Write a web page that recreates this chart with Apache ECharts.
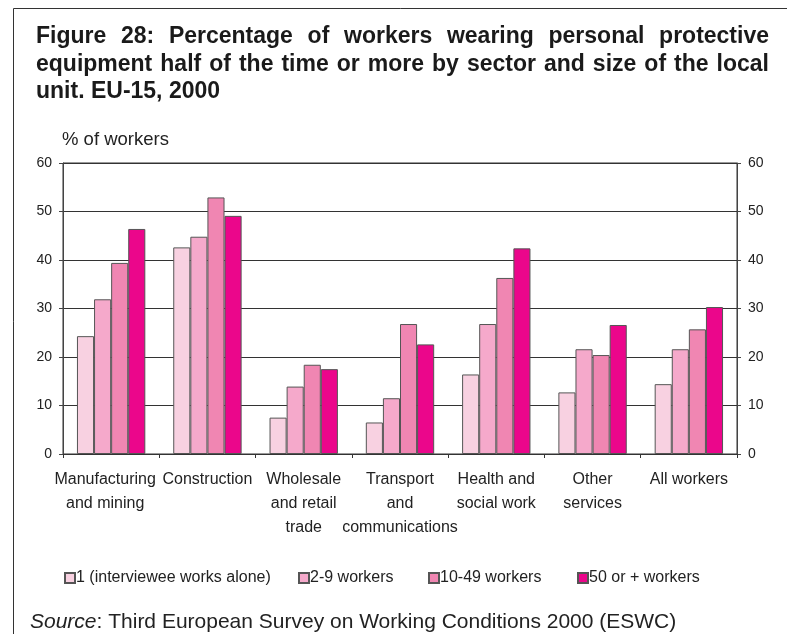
<!DOCTYPE html>
<html><head><meta charset="utf-8">
<script src="https://cdn.jsdelivr.net/npm/echarts@6/dist/echarts.min.js"></script>
<style>html,body{margin:0;padding:0;background:#fff}#c{width:787px;height:634px}</style>
</head><body><div id="c"></div>
<script>
const categories = ["Manufacturing\nand mining","Construction","Wholesale\nand retail\ntrade","Transport\nand\ncommunications","Health and\nsocial work","Other\nservices","All workers"];
const seriesNames = ["1 (interviewee works alone)","2-9 workers","10-49 workers","50 or + workers"];
const alone = [24.3, 42.6, 7.5, 6.5, 16.4, 12.7, 14.4];
const w2to9 = [31.9, 44.8, 13.9, 11.5, 26.8, 21.6, 21.6];
const w10to49 = [39.4, 52.9, 18.4, 26.8, 36.3, 20.4, 25.7];
const w50plus = [46.4, 49.1, 17.5, 22.6, 42.4, 26.6, 30.3];
const yTicks = [0, 10, 20, 30, 40, 50, 60];
const titleLines = ["Figure 28: Percentage of workers wearing personal protective","equipment half of the time or more by sector and size of the local","unit. EU-15, 2000"];

const colors = ["#F8D1E1","#F5A9CB","#F086B2","#EB068B"];
const FONT = "'Liberation Sans', Arial, sans-serif";
const chart = echarts.init(document.getElementById('c'), null, {renderer:'canvas'});

// justified title words
const ctx = document.createElement('canvas').getContext('2d');
const tSize = 23;
ctx.font = "bold " + tSize + "px " + FONT;
const titleEls = [];
const x0 = 36, x1 = 769, baselines = [44, 71.5, 99];
const topOff = 0.8 * tSize;
titleLines.forEach((line, li) => {
  const words = line.split(' ');
  if (li < 2) {
    const widths = words.map(w => ctx.measureText(w).width);
    const total = widths.reduce((a,b)=>a+b,0);
    const gap = (x1 - x0 - total) / (words.length - 1);
    let x = x0;
    words.forEach((w, i) => {
      titleEls.push({type:'text', left:x, top:baselines[li]-topOff, style:{text:w, font:"bold "+tSize+"px "+FONT, fill:'#1a1a1a'}});
      x += widths[i] + gap;
    });
  } else {
    titleEls.push({type:'text', left:x0, top:baselines[li]-topOff, style:{text:line, font:"bold "+tSize+"px "+FONT, fill:'#1a1a1a'}});
  }
});

const data = [alone, w2to9, w10to49, w50plus];
const series = data.map((d, i) => ({
  name: seriesNames[i], type:'bar', data:d,
  barGap:'0%', barCategoryGap:'29%',
  itemStyle:{color:colors[i], borderColor:'#555', borderWidth:1},
  emphasis:{disabled:true}
}));

const yAxisCommon = {
  type:'value', min:0, max:60, interval:10,
  axisLine:{show:true, lineStyle:{color:'#444', width:1}},
  axisTick:{show:true, length:4, lineStyle:{color:'#444'}},
  axisLabel:{fontFamily:FONT, fontSize:14, color:'#222', margin:11}
};

const legendLefts = [64, 298, 428, 577];
const legends = seriesNames.map((n, i) => ({
  data:[n], left:legendLefts[i], top:570, padding:0, icon:'rect', itemWidth:10, itemHeight:10,
  selectedMode:false,
  textStyle:{fontFamily:FONT, fontSize:16, color:'#222', padding:[0,0,0,-4]}
}));

const catData = categories.map((c, i) => i === 0 ? {value:c, textStyle:{padding:[0,12,0,0]}} : c);

chart.setOption({
  animation:false,
  backgroundColor:'#fff',
  grid:{left:63, right:50, top:163, bottom:180, show:true, borderColor:'#333', borderWidth:1, backgroundColor:'transparent'},
  legend:legends,
  xAxis:{
    type:'category', data:catData,
    axisLine:{lineStyle:{color:'#333'}},
    axisTick:{show:true, length:4, lineStyle:{color:'#333'}},
    axisLabel:{interval:0, fontFamily:FONT, fontSize:16, color:'#222', lineHeight:24, margin:14, hideOverlap:false}
  },
  yAxis:[
    Object.assign({}, yAxisCommon, {position:'left', splitLine:{show:true, lineStyle:{color:'#333', width:1}}}),
    Object.assign({}, yAxisCommon, {position:'right', splitLine:{show:false}})
  ],
  series:series,
  graphic:[
    {type:'line', shape:{x1:13.5, y1:8.5, x2:787, y2:8.5}, style:{stroke:'#333', lineWidth:1}},
    {type:'line', shape:{x1:13.5, y1:8.5, x2:13.5, y2:634}, style:{stroke:'#333', lineWidth:1}},
    {type:'text', left:62, top:130, style:{text:'% of workers', font:"18.5px "+FONT, fill:'#222'}},
    {type:'text', left:30, top:612, style:{
      text:'{i|Source}: Third European Survey on Working Conditions 2000 (ESWC)',
      font:"21px "+FONT, fill:'#222',
      rich:{i:{fontStyle:'italic', fontFamily:FONT, fontSize:21, fill:'#222'}}
    }}
  ].concat(titleEls)
});
</script>
</body></html>
